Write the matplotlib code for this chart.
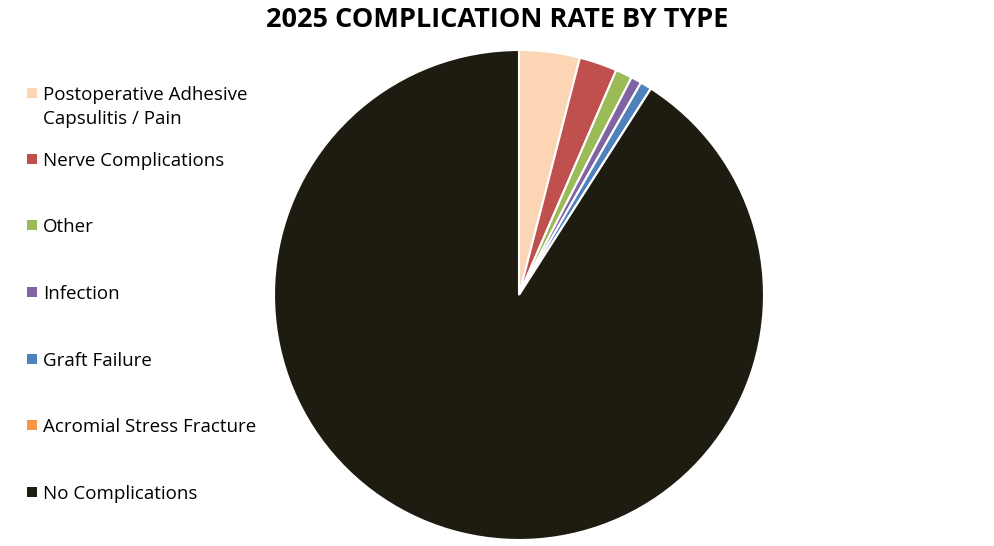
import matplotlib
matplotlib.use("Agg")
import matplotlib.pyplot as plt
import matplotlib.patches as mpatches

# Complication shares (%)
labels = [
    "Postoperative Adhesive\nCapsulitis / Pain",
    "Nerve Complications",
    "Other",
    "Infection",
    "Graft Failure",
    "Acromial Stress Fracture",
    "No Complications",
]
values = [4.0, 2.5, 1.1, 0.7, 0.75, 0.0, 90.95]
colors = ["#FCD5B5", "#C0504D", "#9BBB59", "#8064A2", "#4F81BD", "#F79646", "#1E1C11"]

plt.rcParams["font.family"] = ["Open Sans", "DejaVu Sans"]

fig = plt.figure(figsize=(9.95, 5.46), dpi=100)
ax = fig.add_axes([274 / 995, 6 / 546, 490 / 995, 490 / 546])
ax.pie(values, colors=colors, startangle=90, counterclock=False,
       wedgeprops=dict(edgecolor="white", linewidth=1.5))
ax.set_xlim(-1, 1)
ax.set_ylim(-1, 1)
ax.set_aspect("equal")

fig.text(497 / 995, 1 - 20 / 546, "2025 COMPLICATION RATE BY TYPE",
         ha="center", va="center", fontsize=19.5, fontweight="bold")

# Legend drawn by hand, to keep the Excel-style spacing
legend_y = [93, 159, 225, 292, 359, 425, 492]
for lab, col, y in zip(labels, colors, legend_y):
    fig.patches.append(mpatches.Rectangle((27 / 995, 1 - (y + 5) / 546), 10 / 995, 10 / 546,
                                          facecolor=col, edgecolor="none",
                                          transform=fig.transFigure))
    fig.text(43 / 995, 1 - (y - 7) / 546, lab, ha="left", va="top",
             fontsize=13.5, linespacing=1.4)

fig.savefig("out.png", dpi=100)
